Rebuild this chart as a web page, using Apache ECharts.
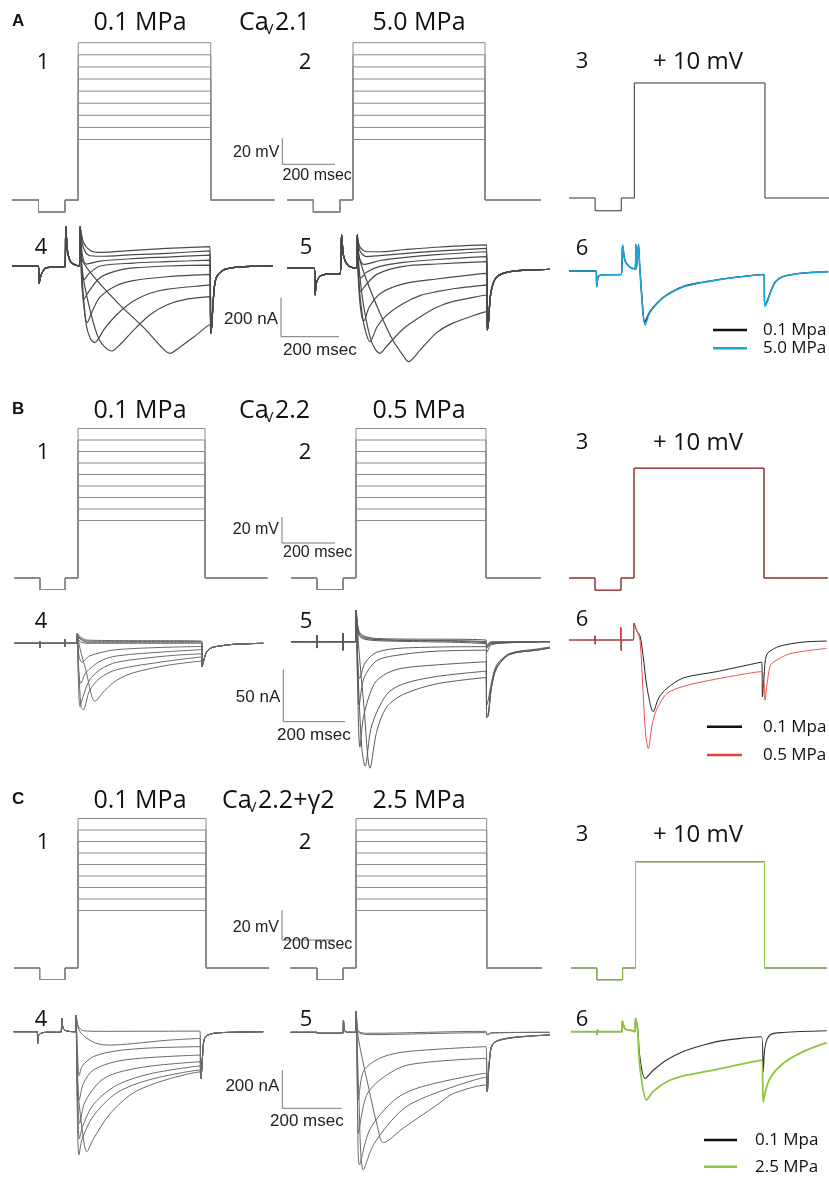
<!DOCTYPE html>
<html>
<head>
<meta charset="utf-8">
<script src="https://cdn.jsdelivr.net/npm/echarts@6/dist/echarts.min.js"></script>
<style>
  html, body { margin: 0; padding: 0; background: #fff; }
  #chart { width: 829px; height: 1182px; }
</style>
</head>
<body>
<div id="chart"></div>
<script>
// ---------------- Voltage protocol (mV, ms) ----------------
const HOLD_MV = -80;
const PREPULSE_MV = -90;
const PHASE_MS = [0, 100, 200, 250, 750];          // holding, prepulse, holding, test step, holding
const STEP_MV = [-30, -20, -10, 0, 10, 20, 30, 40, 50];
const TEST_MV = 10;

// ---------------- Section A: CaV2.1 (currents in nA) ----------------
const A4_pre = [[0,0],[100,0],[102,-89],[110,-45],[125,-12],[150,-5],[200,-3],[203,202],[210,70],[222,20],[240,5],[254,0]];
const A4_steps = [
  [[257,202],[263,40],[300,-40],[400,-190],[500,-320],[560,-410],[596,-448],[630,-420],[690,-360],[747,-300]],
  [[257,202],[265,-20],[290,-200],[330,-380],[376,-436],[410,-400],[458,-330],[521,-250],[584,-200],[660,-170],[747,-157]],
  [[257,202],[264,-50],[280,-300],[295,-370],[311,-393],[350,-320],[395,-250],[458,-180],[521,-140],[584,-120],[747,-97]],
  [[257,202],[263,-80],[275,-250],[284,-290],[300,-240],[332,-160],[395,-100],[458,-75],[584,-55],[747,-43]],
  [[257,202],[263,-60],[272,-170],[285,-140],[332,-60],[395,-25],[458,-10],[584,0],[747,5]],
  [[257,202],[263,-10],[272,-70],[290,-40],[332,0],[458,15],[584,22],[747,30]],
  [[257,202],[265,60],[280,10],[332,25],[458,38],[584,46],[747,56]],
  [[257,202],[268,100],[290,55],[332,50],[458,58],[584,65],[747,78]],
  [[257,202],[270,120],[295,80],[332,70],[458,80],[584,90],[747,99]]
];
const A4_tail = [[750,-345],[754,-300],[760,-166],[770,-63],[798,-21],[835,-8],[900,-2],[985,0]];

const A5_pre = [[0,0],[104,0],[106,-137],[112,-70],[125,-40],[150,-30],[200,-28],[206,171],[214,60],[230,15],[250,2],[262,0]];
const A5_steps = [
  [[265,171],[272,60],[300,-60],[351,-230],[400,-370],[440,-450],[458,-479],[502,-420],[565,-330],[628,-280],[753,-222]],
  [[265,171],[272,0],[290,-200],[320,-380],[351,-436],[376,-400],[439,-310],[502,-250],[565,-200],[628,-170],[753,-137]],
  [[265,171],[270,-50],[285,-250],[300,-340],[313,-376],[340,-300],[376,-240],[439,-180],[502,-140],[565,-120],[628,-105],[753,-86]],
  [[265,171],[270,-80],[280,-230],[290,-270],[310,-200],[351,-130],[439,-80],[565,-55],[753,-26]],
  [[265,171],[270,-40],[278,-120],[295,-90],[340,-30],[439,10],[565,22],[753,34]],
  [[265,171],[270,0],[278,-50],[300,-20],[351,10],[439,30],[565,45],[753,60]],
  [[265,171],[272,60],[290,20],[351,40],[439,55],[565,70],[753,85]],
  [[265,171],[275,90],[300,60],[351,65],[439,75],[565,88],[753,102]],
  [[265,171],[275,110],[300,85],[351,85],[439,95],[565,108],[753,120]]
];
const A5_tail = [[756,-316],[760,-280],[770,-120],[791,-45],[842,-17],[943,-8],[992,-5]];

const A6_ctrl = [[0,0],[104,0],[106,-80],[112,-30],[125,-20],[200,-18],[205,133],[215,50],[235,18],[253,10],[256,137],[258,10],[266,137],[270,40],[280,-150],[290,-262],[309,-209],[340,-160],[373,-123],[436,-80],[500,-60],[564,-46],[650,-30],[746,-17],[749,-175],[755,-165],[774,-98],[790,-55],[818,-29],[882,-12],[992,-3]];
const A6_press = [[0,0],[104,0],[106,-82],[112,-30],[125,-20],[200,-18],[205,133],[215,50],[235,18],[253,10],[256,137],[258,10],[266,137],[270,40],[280,-160],[291,-277],[309,-215],[340,-163],[373,-125],[436,-82],[500,-62],[564,-47],[650,-31],[746,-18],[749,-180],[755,-170],[774,-100],[790,-56],[818,-30],[882,-13],[992,-3]];

// ---------------- Section B: CaV2.2 ----------------
const B4_pre = [[0,0],[100,0],[101,-4],[103,2],[106,0],[200,0],[201,4],[203,-3],[206,0],[249,0]];
const B4_steps = [
  [[251,9],[262,-5],[285,-25],[322,-55],[360,-45],[409,-35],[475,-28],[609,-21],[749,-17]],
  [[251,9],[256,-20],[266,-60],[275,-63],[300,-45],[342,-33],[409,-25],[609,-17],[749,-13]],
  [[251,9],[255,-30],[262,-60],[275,-50],[300,-35],[342,-25],[409,-18],[609,-12],[749,-10]],
  [[251,9],[256,-25],[265,-38],[285,-28],[342,-17],[409,-12],[609,-8],[749,-6]],
  [[251,9],[258,-12],[270,-18],[300,-12],[409,-6],[749,-3]],
  [[251,9],[260,2],[290,0],[749,0]],
  [[251,9],[262,4],[290,1],[749,1]],
  [[251,9],[262,5],[290,2],[749,1.5]],
  [[251,9],[264,6],[290,3],[749,2]]
];
const B4_tail = [[751,-22],[755,-18],[769,-8],[790,-4],[809,-3],[875,-1],[995,0]];

const B5_pre = [[0,0],[99,0],[100,6],[101,-6],[103,0],[199,0],[200,8],[201,-8],[203,0],[248,0]];
const B5_steps = [
  [[250,30],[262,-10],[280,-60],[304,-120],[330,-85],[368,-62],[432,-50],[560,-40],[750,-34],[753,-72],[759,-70],[770,-45],[791,-25],[842,-12],[945,-8],[996,-6]],
  [[250,30],[258,-30],[272,-100],[285,-118],[310,-80],[368,-50],[432,-40],[560,-33],[750,-28],[753,-72],[759,-70],[770,-45],[791,-25],[842,-12],[945,-8],[996,-6]],
  [[250,30],[256,-40],[265,-100],[280,-70],[320,-40],[368,-30],[432,-25],[560,-22],[750,-19],[753,-70],[759,-68],[770,-44],[791,-24],[842,-12],[945,-8],[996,-6]],
  [[250,30],[256,-30],[262,-60],[280,-35],[330,-18],[432,-12],[560,-9],[750,-8],[753,-60],[759,-55],[770,-40],[791,-22],[842,-11],[945,-7],[996,-5]],
  [[250,30],[257,-20],[264,-35],[285,-20],[330,-10],[432,-6],[750,-4.7],[753,-10],[770,-3],[842,-1],[996,0]],
  [[250,30],[258,8],[275,3],[330,1],[750,-2],[753,-6],[770,-2],[996,0]],
  [[250,30],[258,9],[275,4],[330,2],[750,-1],[753,-5],[770,-1],[996,0]],
  [[250,30],[260,10],[275,5],[330,2],[750,0],[753,-4],[770,-1],[996,0]],
  [[250,30],[260,11],[275,6],[330,3],[750,1.6],[753,-3],[770,0],[996,0]]
];

const B6_ctrl = [[0,0],[99,0],[100,4],[101,-4],[103,0],[198,0],[199,12],[201,-10],[204,0],[248,0],[250,16],[262,8],[273,4],[285,-15],[300,-45],[324,-68],[345,-55],[376,-46],[440,-36],[568,-30],[741,-21],[744,-54],[750,-35],[760,-14],[790,-8],[824,-5],[900,-2],[991,-1]];
const B6_press = [[0,0],[99,0],[100,4],[101,-4],[103,0],[198,0],[199,12],[201,-10],[204,0],[248,0],[250,16],[262,8],[273,0],[285,-50],[295,-90],[305,-103],[320,-80],[337,-66],[376,-51],[440,-44],[568,-37],[741,-30],[754,-57],[760,-45],[773,-25],[786,-21],[850,-13],[991,-8]];

// ---------------- Section C: CaV2.2 + gamma2 ----------------
const C4_pre = [[0,0],[95,0],[96,-61],[100,-20],[110,-8],[130,-3],[190,-3],[193,70],[198,20],[210,5],[240,0],[248,0]];
const C4_steps = [
  [[250,87],[259,30],[280,5],[350,2],[748,3]],
  [[250,87],[259,20],[280,-20],[330,-60],[386,-70],[480,-62],[614,-45],[748,-35]],
  [[250,87],[256,-100],[263,-230],[275,-180],[320,-130],[413,-100],[547,-85],[748,-78]],
  [[250,87],[256,-200],[263,-357],[280,-270],[320,-200],[413,-155],[547,-135],[748,-122]],
  [[250,87],[256,-300],[265,-479],[285,-370],[346,-260],[413,-215],[547,-180],[748,-157]],
  [[250,87],[256,-350],[264,-560],[275,-500],[320,-380],[413,-280],[547,-220],[748,-179]],
  [[250,87],[255,-400],[262,-644],[275,-560],[320,-440],[413,-320],[547,-250],[748,-200]],
  [[250,87],[258,-300],[280,-560],[293,-627],[320,-560],[386,-430],[480,-320],[614,-250],[748,-210]]
];
const C4_tail = [[751,-244],[755,-200],[760,-100],[768,-30],[801,-9],[882,-3],[1002,0]];

const C5_pre = [[0,0],[100,0],[101,-5],[110,-5],[200,-5],[202,60],[206,10],[215,0],[248,0]];
const C5_steps = [
  [[250,108],[255,20],[265,0],[300,-5],[747,5],[752,-10],[770,-2],[992,0]],
  [[250,108],[255,15],[265,-5],[300,-12],[747,-2],[752,-14],[770,-4],[992,0]],
  [[250,108],[255,-150],[259,-354],[280,-200],[350,-130],[450,-100],[747,-75],[752,-300],[760,-150],[775,-57],[839,-28],[992,-14]],
  [[250,108],[255,-250],[259,-527],[290,-330],[350,-240],[450,-170],[747,-136],[752,-305],[760,-155],[775,-58],[839,-29],[992,-14]],
  [[250,108],[256,-400],[263,-693],[304,-505],[400,-350],[500,-285],[747,-214],[752,-310],[760,-160],[775,-60],[839,-30],[992,-14]],
  [[250,108],[260,-300],[278,-719],[320,-580],[431,-400],[559,-315],[747,-235],[752,-310],[760,-160],[775,-60],[839,-30],[992,-14]],
  [[250,108],[260,-40],[300,-300],[330,-480],[355,-576],[431,-500],[559,-380],[622,-320],[747,-275],[752,-310],[760,-160],[775,-60],[839,-31],[992,-14]]
];

const C6_ctrl = [[0,0],[100,0],[101,-15],[103,10],[106,0],[197,0],[199,55],[210,15],[240,5],[248,0],[250,70],[258,20],[267,-131],[287,-244],[320,-200],[371,-148],[435,-104],[500,-75],[565,-52],[650,-36],[739,-26],[745,-209],[752,-80],[771,-17],[823,-4],[991,5]];
const C6_press = [[0,0],[100,0],[101,-15],[103,10],[106,0],[197,0],[199,55],[210,15],[240,5],[248,0],[250,70],[258,15],[267,-183],[293,-357],[320,-310],[371,-261],[435,-231],[500,-214],[565,-197],[650,-172],[739,-148],[745,-366],[752,-320],[771,-244],[823,-165],[900,-104],[991,-57]];

// ---------------- Panel placement (pixels) ----------------
// x0: left edge (t = 0), kx: px per ms, yRef: pixel row of vRef, ky: px per unit
const P = {
  A1: {x0: 12,  kx: 0.265, yRef: 200, vRef: -80, ky: 1.21, tMax: 990, yMin: -95, yMax: 60},
  A2: {x0: 287, kx: 0.264, yRef: 200, vRef: -80, ky: 1.21, tMax: 960, yMin: -95, yMax: 60},
  A3: {x0: 569, kx: 0.262, yRef: 198, vRef: -80, ky: 1.278, tMax: 995, yMin: -95, yMax: 20},
  A4: {x0: 12,  kx: 0.265, yRef: 266, vRef: 0, ky: 0.195, tMax: 985, yMin: -470, yMax: 210},
  A5: {x0: 287, kx: 0.265, yRef: 268.3, vRef: 0, ky: 0.195, tMax: 992, yMin: -500, yMax: 180},
  A6: {x0: 569, kx: 0.262, yRef: 271, vRef: 0, ky: 0.195, tMax: 995, yMin: -300, yMax: 150},
  B1: {x0: 14.5, kx: 0.254, yRef: 578, vRef: -80, ky: 1.15, tMax: 995, yMin: -95, yMax: 60},
  B2: {x0: 291, kx: 0.26, yRef: 578, vRef: -80, ky: 1.15, tMax: 960, yMin: -95, yMax: 60},
  B3: {x0: 569, kx: 0.26, yRef: 578, vRef: -80, ky: 1.22, tMax: 995, yMin: -95, yMax: 20},
  B4: {x0: 14.5, kx: 0.25, yRef: 643.3, vRef: 0, ky: 1.054, tMax: 995, yMin: -70, yMax: 15},
  B5: {x0: 291, kx: 0.26, yRef: 641.7, vRef: 0, ky: 1.054, tMax: 996, yMin: -125, yMax: 35},
  B6: {x0: 569, kx: 0.26, yRef: 640, vRef: 0, ky: 1.054, tMax: 991, yMin: -110, yMax: 20},
  C1: {x0: 14, kx: 0.256, yRef: 968, vRef: -80, ky: 1.15, tMax: 995, yMin: -95, yMax: 60},
  C2: {x0: 290.7, kx: 0.2613, yRef: 968, vRef: -80, ky: 1.15, tMax: 960, yMin: -95, yMax: 60},
  C3: {x0: 571, kx: 0.258, yRef: 968, vRef: -80, ky: 1.18, tMax: 991, yMin: -95, yMax: 20},
  C4: {x0: 13.7, kx: 0.249, yRef: 1031.7, vRef: 0, ky: 0.1915, tMax: 1002, yMin: -660, yMax: 95},
  C5: {x0: 290.7, kx: 0.2613, yRef: 1032.3, vRef: 0, ky: 0.1915, tMax: 992, yMin: -730, yMax: 115},
  C6: {x0: 571, kx: 0.258, yRef: 1031.7, vRef: 0, ky: 0.1915, tMax: 991, yMin: -380, yMax: 80}
};

const grids = [], xAxes = [], yAxes = [], series = [];

function addPanel(p) {
  const i = grids.length;
  grids.push({
    left: p.x0, width: p.tMax * p.kx,
    top: p.yRef - (p.yMax - p.vRef) * p.ky,
    height: (p.yMax - p.yMin) * p.ky
  });
  xAxes.push({type: 'value', gridIndex: i, min: 0, max: p.tMax, show: false});
  yAxes.push({type: 'value', gridIndex: i, min: p.yMin, max: p.yMax, show: false});
  return i;
}

function addTrace(idx, data, color, width, smooth) {
  series.push({
    type: 'line', xAxisIndex: idx, yAxisIndex: idx, data: data,
    showSymbol: false, silent: true, animation: false, clip: false,
    smooth: smooth ? 0.3 : false,
    lineStyle: {color: color, width: width, join: 'round'}
  });
}

function protocol(v, tEnd) {
  const [t0, t1, t2, t3, t4] = PHASE_MS;
  return [[t0, HOLD_MV], [t1, HOLD_MV], [t1, PREPULSE_MV], [t2, PREPULSE_MV], [t2, HOLD_MV],
          [t3, HOLD_MV], [t3, v], [t4, v], [t4, HOLD_MV], [tEnd, HOLD_MV]];
}

function familyPanel(p) {
  const i = addPanel(p);
  STEP_MV.forEach(v => addTrace(i, protocol(v, p.tMax), '#8a8a8a', 1, false));
}
function singlePanel(p, color) {
  const i = addPanel(p);
  addTrace(i, protocol(TEST_MV, p.tMax), '#333', 1, false);
  if (color) addTrace(i, protocol(TEST_MV, p.tMax), color, 1, false);
}
function currentPanel(p, pre, steps, tail, color, width) {
  const i = addPanel(p);
  steps.forEach(s => addTrace(i, pre.concat(s, tail || []), color, width, true));
}

// Section A
familyPanel(P.A1); familyPanel(P.A2); singlePanel(P.A3, null);
currentPanel(P.A4, A4_pre, A4_steps, A4_tail, '#4a4a4a', 1.2);
currentPanel(P.A5, A5_pre, A5_steps, A5_tail, '#4a4a4a', 1.2);
(function () {
  const i = addPanel(P.A6);
  addTrace(i, A6_ctrl, '#111', 1.3, true);
  addTrace(i, A6_press, '#1aa3dd', 1.6, true);
})();

// Section B
familyPanel(P.B1); familyPanel(P.B2); singlePanel(P.B3, '#b5332e');
currentPanel(P.B4, B4_pre, B4_steps, B4_tail, '#6a6a6a', 1);
currentPanel(P.B5, B5_pre, B5_steps, null, '#5a5a5a', 1);
(function () {
  const i = addPanel(P.B6);
  addTrace(i, B6_ctrl, '#222', 1, true);
  addTrace(i, B6_press, '#e8403a', 0.9, true);
})();

// Section C
familyPanel(P.C1); familyPanel(P.C2); singlePanel(P.C3, '#8cc63f');
currentPanel(P.C4, C4_pre, C4_steps, C4_tail, '#6a6a6a', 1);
currentPanel(P.C5, C5_pre, C5_steps, null, '#6a6a6a', 1);
(function () {
  const i = addPanel(P.C6);
  addTrace(i, C6_ctrl, '#333', 1.1, true);
  addTrace(i, C6_press, '#8cc63f', 1.8, true);
})();

// ---------------- Text, scale bars, legends ----------------
const SANS = '"Open Sans", "Noto Sans", sans-serif';
const ARIAL = '"Liberation Sans", Arial, sans-serif';
const gfx = [];
function txt(x, y, s, size, opts) {
  opts = opts || {};
  const align = opts.align || 'center';
  gfx.push({type: 'text', x: x, y: y, silent: true, style: {
    text: s, fill: opts.color || '#111',
    font: (opts.bold ? 'bold ' : '') + size + 'px ' + (opts.family || SANS),
    align: align, textAlign: align, verticalAlign: 'middle', textVerticalAlign: 'middle'
  }});
}
function seg(x1, y1, x2, y2, color, w) {
  gfx.push({type: 'line', silent: true, shape: {x1, y1, x2, y2}, style: {stroke: color || '#666', lineWidth: w || 1}});
}
function header(y, letter, left, chan, right) {
  txt(12, y - 2, letter, 17, {bold: true, family: ARIAL, align: 'left'});
  txt(140, y, left, 25);
  txt(419, y, right, 25);
  txt(chan.x, y, 'Ca', 25, {align: 'left'});
  txt(chan.x + 26, y + 7, 'V', 14, {align: 'left'});
  txt(chan.x + 36, y, chan.rest, 25, {align: 'left'});
}
function scaleBar(x, yTop, yBot, xRight, vLabel, vy, hLabel, hx, hy, size) {
  seg(x, yTop, x, yBot, '#777', 1);
  seg(x, yBot, xRight, yBot, '#777', 1);
  txt(x - 3, vy, vLabel, size, {family: ARIAL, align: 'right', color: '#222'});
  txt(hx, hy, hLabel, size, {family: ARIAL, align: 'left', color: '#222'});
}
function legend(x1, x2, y1, y2, tx, c2, l1, l2) {
  seg(x1, y1, x2, y1, '#111', 2.5);
  seg(x1, y2, x2, y2, c2, 2.5);
  txt(tx, y1, l1, 17, {align: 'left'});
  txt(tx, y2, l2, 17, {align: 'left'});
}

// A
header(23, 'A', '0.1 MPa', {x: 239, rest: '2.1'}, '5.0 MPa');
txt(43, 63, '1', 22); txt(305, 63, '2', 22); txt(582, 62, '3', 22);
txt(698, 62, '+ 10 mV', 24);
txt(41, 248, '4', 22); txt(306, 248, '5', 22); txt(582, 249, '6', 22);
scaleBar(282.3, 138.3, 164.3, 335, '20 mV', 153, '200 msec', 282.5, 176, 16);
scaleBar(281, 297.7, 336.7, 339, '200 nA', 319, '200 msec', 283, 350, 17);
legend(713, 747, 330, 348.3, 763, '#1aa3dd', '0.1 Mpa', '5.0 MPa');

// B
header(411, 'B', '0.1 MPa', {x: 239, rest: '2.2'}, '0.5 MPa');
txt(43, 453, '1', 22); txt(305, 453, '2', 22); txt(582, 443, '3', 22);
txt(698, 443, '+ 10 mV', 24);
txt(41, 622, '4', 22); txt(306, 622, '5', 22); txt(582, 620, '6', 22);
scaleBar(282, 517, 543, 335, '20 mV', 530, '200 msec', 283, 553, 16);
scaleBar(283.3, 669.3, 721.7, 345, '50 nA', 697, '200 msec', 277, 735, 17);
legend(707, 742, 726.7, 755, 763, '#e8403a', '0.1 Mpa', '0.5 MPa');

// C
header(801, 'C', '0.1 MPa', {x: 222, rest: '2.2+γ2'}, '2.5 MPa');
txt(43, 843, '1', 22); txt(305, 843, '2', 22); txt(582, 835, '3', 22);
txt(698, 835, '+ 10 mV', 24);
txt(41, 1020, '4', 22); txt(306, 1020, '5', 22); txt(582, 1020, '6', 22);
scaleBar(282, 910, 940, 335, '20 mV', 928, '200 msec', 283, 945, 16);
scaleBar(282.3, 1070, 1108.3, 341.7, '200 nA', 1086, '200 msec', 270, 1121, 17);
legend(704, 737, 1140, 1166.7, 755, '#8cc63f', '0.1 Mpa', '2.5 MPa');

const chart = echarts.init(document.getElementById('chart'), null, {renderer: 'canvas'});
chart.setOption({
  backgroundColor: '#fff',
  animation: false,
  grid: grids, xAxis: xAxes, yAxis: yAxes,
  series: series,
  graphic: {elements: gfx}
});
</script>
</body>
</html>
